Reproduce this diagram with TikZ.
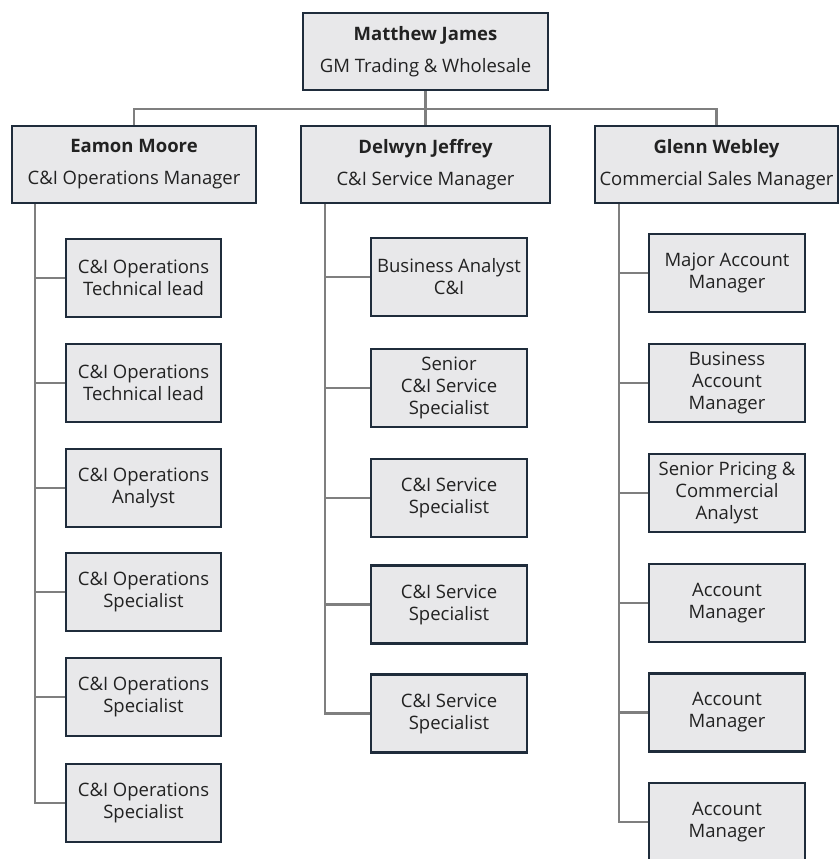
\documentclass[tikz,border=0pt]{standalone}
\usepackage{fontspec}
\setmainfont{Open Sans}
\definecolor{boxfill}{HTML}{E8E8EA}
\definecolor{boxline}{HTML}{1F2C3B}
\definecolor{connline}{HTML}{7F7F7F}
\definecolor{txt}{HTML}{222222}
\begin{document}
\begin{tikzpicture}[x=1pt,y=-1pt,
  box/.style={draw=boxline,fill=boxfill,line width=2.4pt,inner sep=0pt,align=center,text=txt,
    minimum height=78pt},
  mgr/.style={box,minimum height=77pt,font=\fontsize{18.5}{32}\selectfont},
  child/.style={box,minimum width=156pt,font=\fontsize{18.5}{22}\selectfont},
  conn/.style={draw=connline,line width=2.6pt}]
\clip (0,0) rectangle (840,859);
\fill[white] (0,0) rectangle (840,859);

% top connectors (drawn first, boxes on top)
\coordinate (bus) at (425.5,109);
\coordinate (topS) at (425.5,90);
\coordinate (eN) at (134,126);
\coordinate (dN) at (425.5,126);
\coordinate (gN) at (716.5,126);
\draw[conn] (topS) -- (bus);
\draw[conn] (bus) -| (eN);
\draw[conn] (bus) -| (gN);
\draw[conn] (bus) -- (dN);

\node[mgr,minimum width=245pt] (top) at (425.5,51.5) {\textbf{Matthew James}\\GM Trading \& Wholesale};
\node[mgr,minimum width=244pt] (eamon) at (134,164.5) {\textbf{Eamon Moore}\\C\&I Operations Manager};
\node[mgr,minimum width=249pt] (delwyn) at (425.5,164.5) {\textbf{Delwyn Jeffrey}\\C\&I Service Manager};
\node[mgr,minimum width=243pt] (glenn) at (716.5,164.5) {\textbf{Glenn Webley}\\Commercial Sales Manager};

% left column
\node[child,minimum width=155pt] (e1) at (143.5,278) {C\&I Operations\\Technical lead};
\node[child,minimum width=155pt] (e2) at (143.5,383) {C\&I Operations\\Technical lead};
\node[child,minimum width=155pt] (e3) at (143.5,488) {C\&I Operations\\Analyst};
\node[child,minimum width=155pt] (e4) at (143.5,592) {C\&I Operations\\Specialist};
\node[child,minimum width=155pt] (e5) at (143.5,697) {C\&I Operations\\Specialist};
\node[child,minimum width=155pt] (e6) at (143.5,803) {C\&I Operations\\Specialist};

% middle column
\node[child] (d1) at (449,277) {Business Analyst\\C\&I};
\node[child] (d2) at (449,388) {Senior\\C\&I Service\\Specialist};
\node[child] (d3) at (449,498) {C\&I Service\\Specialist};
\node[child] (d4) at (449,604.5) {C\&I Service\\Specialist};
\node[child] (d5) at (449,713.5) {C\&I Service\\Specialist};

% right column
\node[child] (g1) at (727,273) {Major Account\\Manager};
\node[child] (g2) at (727,383) {Business\\Account\\Manager};
\node[child] (g3) at (727,493) {Senior Pricing \&\\Commercial\\Analyst};
\node[child] (g4) at (727,603) {Account\\Manager};
\node[child] (g5) at (727,712.5) {Account\\Manager};
\node[child] (g6) at (727,822) {Account\\Manager};

% spines
\coordinate (eS) at ([xshift=24pt]eamon.south west);
\coordinate (dS) at ([xshift=25pt]delwyn.south west);
\coordinate (gS) at ([xshift=25pt]glenn.south west);
\draw[conn] (eS) |- (e6.west);
\foreach \n in {e1,e2,e3,e4,e5} \draw[conn] (eS |- \n.west) -- (\n.west);
\draw[conn] (dS) |- (d5.west);
\foreach \n in {d1,d2,d3,d4} \draw[conn] (dS |- \n.west) -- (\n.west);
\draw[conn] (gS) |- (g6.west);
\foreach \n in {g1,g2,g3,g4,g5} \draw[conn] (gS |- \n.west) -- (\n.west);
\end{tikzpicture}
\end{document}
